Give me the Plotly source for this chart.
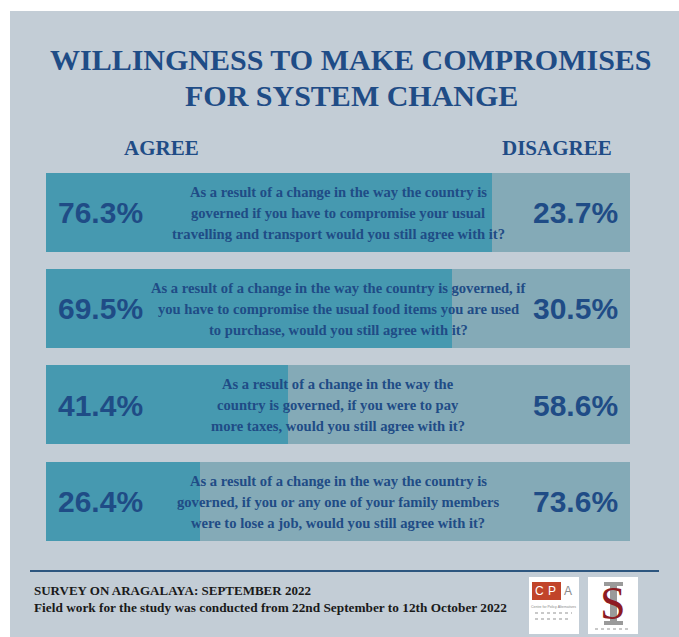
import plotly.graph_objects as go

W, H = 679, 637

# Survey data
questions = [
    ["As a result of a change in the way the country is",
     "governed if you have to compromise your usual",
     "travelling and transport would you still agree with it?"],
    ["As a result of a change in the way the country is governed, if",
     "you have to compromise the usual food items you are used",
     "to purchase, would you still agree with it?"],
    ["As a result of a change in the way the",
     "country is governed, if you were to pay",
     "more taxes, would you still agree with it?"],
    ["As a result of a change in the way the country is",
     "governed, if you or any one of your family members",
     "were to lose a job, would you still agree with it?"],
]
agree = [76.3, 69.5, 41.4, 26.4]
disagree = [23.7, 30.5, 58.6, 73.6]
rows = list(range(len(agree)))

title_lines = ["WILLINGNESS TO MAKE COMPROMISES", "FOR SYSTEM CHANGE"]
footer_title = "SURVEY ON ARAGALAYA: SEPTEMBER 2022"
footer_note = "Field work for the study was conducted from 22nd September to 12th October 2022"

PANEL = "#c3cdd6"
AGREE_C = "#4699b0"
DISAGREE_C = "#84aab7"
NAVY = "#1f4c86"
SERIF = "Liberation Serif, Times New Roman, serif"
SANS = "Liberation Sans, Arial, sans-serif"


def px(x):
    return x / W


def py(y):
    return (H - y) / H


fig = go.Figure()
fig.add_trace(go.Bar(y=rows, x=agree, orientation="h", marker=dict(color=AGREE_C, line=dict(width=0)),
                     width=0.82, hoverinfo="skip", name="Agree"))
fig.add_trace(go.Bar(y=rows, x=disagree, orientation="h", marker=dict(color=DISAGREE_C, line=dict(width=0)),
                     width=0.82, hoverinfo="skip", name="Disagree"))

ann = []
# title
for t, yy in zip(title_lines, [59, 96]):
    ann.append(dict(x=px(351), y=py(yy), xref="paper", yref="paper", text=f"<b>{t}</b>",
                    showarrow=False, xanchor="center", yanchor="middle",
                    font=dict(family=SERIF, size=30, color=NAVY)))
# column headings
ann.append(dict(x=px(161), y=py(148), xref="paper", yref="paper", text="<b>AGREE</b>", showarrow=False,
                xanchor="center", yanchor="middle", font=dict(family=SERIF, size=21, color=NAVY)))
ann.append(dict(x=px(557), y=py(148), xref="paper", yref="paper", text="<b>DISAGREE</b>", showarrow=False,
                xanchor="center", yanchor="middle", font=dict(family=SERIF, size=21, color=NAVY)))

# per-row labels
for r, a, d, q in zip(rows, agree, disagree, questions):
    ann.append(dict(x=px(100), y=r, xref="paper", yref="y", text=f"<b>{a:.1f}%</b>", showarrow=False,
                    xanchor="center", yanchor="middle", font=dict(family=SANS, size=30, color=NAVY)))
    ann.append(dict(x=px(575), y=r, xref="paper", yref="y", text=f"<b>{d:.1f}%</b>", showarrow=False,
                    xanchor="center", yanchor="middle", font=dict(family=SANS, size=30, color=NAVY)))
    for k, line in enumerate(q):
        ann.append(dict(x=px(338), y=r, xref="paper", yref="y", yshift=21 * (1 - k), text=f"<b>{line}</b>",
                        showarrow=False, xanchor="center", yanchor="middle",
                        font=dict(family=SERIF, size=14.6, color=NAVY)))

# footer
ann.append(dict(x=px(32), y=py(590), xref="paper", yref="paper", text=f"<b>{footer_title}</b>",
                showarrow=False, xanchor="left", yanchor="middle", font=dict(family=SERIF, size=13, color="#1a1a1a")))
ann.append(dict(x=px(32), y=py(607), xref="paper", yref="paper", text=f"<b>{footer_note}</b>",
                showarrow=False, xanchor="left", yanchor="middle", font=dict(family=SERIF, size=13.3, color="#1a1a1a")))

# CPA logo lettering
ann.append(dict(x=px(539), y=py(591), xref="paper", yref="paper", text="C", showarrow=False,
                xanchor="center", yanchor="middle", font=dict(family=SANS, size=12, color="white")))
ann.append(dict(x=px(552), y=py(591), xref="paper", yref="paper", text="P", showarrow=False,
                xanchor="center", yanchor="middle", font=dict(family=SANS, size=12, color="white")))
ann.append(dict(x=px(568), y=py(591), xref="paper", yref="paper", text="A", showarrow=False,
                xanchor="center", yanchor="middle", font=dict(family=SANS, size=12, color="#8a8a8a")))
ann.append(dict(x=px(553), y=py(607), xref="paper", yref="paper", text="Centre for Policy Alternatives",
                showarrow=False, xanchor="center", yanchor="middle", font=dict(family=SANS, size=3.5, color="#888")))
# second logo: red S over grey I
ann.append(dict(x=px(613), y=py(603), xref="paper", yref="paper", text="S", showarrow=False,
                xanchor="center", yanchor="middle", font=dict(family=SERIF, size=46, color="#8e1b22")))

shapes = [
    dict(type="rect", xref="paper", yref="paper", x0=px(10), x1=1.0, y0=0, y1=py(11),
         fillcolor=PANEL, line=dict(width=0), layer="below"),
    dict(type="line", xref="paper", yref="paper", x0=px(30), x1=px(659), y0=py(571), y1=py(571),
         line=dict(color="#2d567f", width=2)),
    # logo boxes
    dict(type="rect", xref="paper", yref="paper", x0=px(529), x1=px(579), y0=py(634), y1=py(577),
         fillcolor="white", line=dict(width=0)),
    dict(type="rect", xref="paper", yref="paper", x0=px(588), x1=px(638), y0=py(634), y1=py(577),
         fillcolor="white", line=dict(width=0)),
    dict(type="rect", xref="paper", yref="paper", x0=px(532), x1=px(561), y0=py(600), y1=py(582),
         fillcolor="#c1442a", line=dict(width=0)),
    # grey "I" behind the S
    dict(type="rect", xref="paper", yref="paper", x0=px(610), x1=px(617), y0=py(624), y1=py(584),
         fillcolor="#9a9a9a", line=dict(width=0)),
    dict(type="rect", xref="paper", yref="paper", x0=px(604), x1=px(623), y0=py(586), y1=py(582),
         fillcolor="#9a9a9a", line=dict(width=0)),
    dict(type="rect", xref="paper", yref="paper", x0=px(604), x1=px(623), y0=py(625), y1=py(621),
         fillcolor="#9a9a9a", line=dict(width=0)),
]
# faint script lines in the CPA logo and the caption under the second logo
for yy, x0, x1 in [(613, 535, 572), (619, 535, 568), (629, 595, 630)]:
    shapes.append(dict(type="line", xref="paper", yref="paper", x0=px(x0), x1=px(x1), y0=py(yy), y1=py(yy),
                       line=dict(color="#b8b8b8", width=1.5, dash="dot")))

fig.update_layout(
    width=W, height=H,
    margin=dict(l=0, r=0, t=0, b=0),
    paper_bgcolor="white", plot_bgcolor="rgba(0,0,0,0)",
    barmode="stack", bargap=0, showlegend=False,
    xaxis=dict(range=[0, 100], domain=[px(46), px(630)], visible=False, fixedrange=True),
    yaxis=dict(range=[3.5, -0.5], domain=[py(549.67), py(164.33)], visible=False, fixedrange=True),
    annotations=ann, shapes=shapes,
)

fig.write_html("out.html")
